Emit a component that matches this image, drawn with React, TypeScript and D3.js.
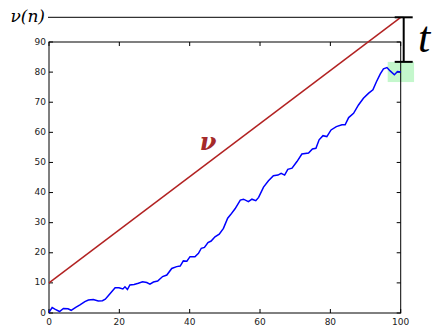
import * as d3 from "d3";

// blue walk (x, value)
const walkX = [0, 0.9, 1.8, 3.0, 4.1, 5.4, 6.3, 7.6, 8.8, 10.2, 11.2, 12.6, 14.0, 15.2, 16.0, 17.4, 18.8, 19.9, 21.0, 21.6, 22.3, 23.0, 24.2, 25.4, 26.6, 27.8, 28.7, 29.7, 30.9, 32.3, 33.5, 34.9, 36.3, 37.3, 38.2, 39.2, 40.1, 41.5, 42.5, 43.3, 44.2, 45.2, 46.1, 47.2, 48.4, 49.6, 50.8, 51.6, 52.9, 54.4, 55.3, 56.7, 57.7, 58.8, 59.6, 61.0, 62.4, 63.8, 65.1, 66.0, 67.0, 67.9, 69.1, 70.5, 71.9, 73.8, 74.9, 75.9, 76.8, 77.9, 79.0, 80.2, 81.7, 83.3, 84.2, 85.2, 86.6, 88.0, 89.4, 90.9, 92.1, 93.1, 94.2, 95.1, 96.1, 97.0, 98.2, 99.1, 100];
const walkY = [0.2, 1.8, 1.2, 0.5, 1.5, 1.4, 0.9, 1.9, 2.7, 3.8, 4.3, 4.5, 4.0, 4.1, 4.6, 6.5, 8.4, 8.4, 8.0, 8.7, 7.8, 9.3, 9.5, 9.9, 10.4, 10.1, 9.6, 10.3, 10.6, 12.1, 12.6, 14.8, 15.4, 15.6, 17.3, 17.2, 18.7, 18.7, 19.8, 21.5, 21.8, 23.4, 23.9, 25.3, 26.2, 28.1, 31.5, 32.6, 34.6, 37.5, 37.8, 37.0, 37.8, 37.3, 38.4, 41.8, 43.9, 45.6, 45.8, 46.4, 45.8, 47.7, 48.1, 50.3, 52.8, 53.1, 54.5, 54.7, 57.5, 58.9, 58.6, 60.8, 61.9, 62.5, 62.5, 64.9, 66.3, 69.1, 71.3, 73.0, 74.1, 76.8, 79.4, 81.1, 81.5, 80.4, 79.1, 80.2, 80.0];

// red line nu: from (0, 10) up to nu(n)
const nuStart = 10;
const nuEnd = 98.2;

// green box round the last point
const boxX = [96.3, 103.8];
const boxY = [76.7, 83.4];

const xTicks = [0, 20, 40, 60, 80, 100];
const yTicks = [0, 10, 20, 30, 40, 50, 60, 70, 80, 90];

export default function App() {
  const width = 432;
  const height = 327;

  const x = d3.scaleLinear().domain([0, 100]).range([49, 400.7]);
  const y = d3.scaleLinear().domain([0, 90]).range([313, 42]);

  const pts: [number, number][] = walkX.map((v, i) => [v, walkY[i]]);
  const line = d3
    .line<[number, number]>()
    .x((d) => x(d[0]))
    .y((d) => y(d[1]));

  const tick = 4;
  const font = "DejaVu Sans, sans-serif";
  const serif = "DejaVu Serif, serif";
  const thin = "Liberation Serif, serif";

  const bx = x(100) + 3;
  const yTop = y(nuEnd);
  const yBot = y(boxY[1]);

  return (
    <svg
      width={width}
      height={height}
      style={{ position: "absolute", left: 0, top: 0, background: "#fff" }}
    >
      {/* green box */}
      <rect
        x={x(boxX[0])}
        y={y(boxY[1])}
        width={x(boxX[1]) - x(boxX[0])}
        height={y(boxY[0]) - y(boxY[1])}
        fill="#c4f7cc"
      />

      {/* frame */}
      <rect
        x={x(0)}
        y={y(90)}
        width={x(100) - x(0)}
        height={y(0) - y(90)}
        fill="none"
        stroke="#000"
        strokeWidth={1}
      />

      {/* ticks */}
      {xTicks.map((t) => (
        <g key={"xt" + t}>
          <line x1={x(t)} x2={x(t)} y1={y(0)} y2={y(0) - tick} stroke="#000" />
          <line x1={x(t)} x2={x(t)} y1={y(90)} y2={y(90) + tick} stroke="#000" />
          <text
            x={x(t)}
            y={y(0) + 12}
            fontSize={9}
            fontFamily={font}
            textAnchor="middle"
            fill="#222"
          >
            {t}
          </text>
        </g>
      ))}
      {yTicks.map((t) => (
        <g key={"yt" + t}>
          <line x1={x(0)} x2={x(0) + tick} y1={y(t)} y2={y(t)} stroke="#000" />
          <line x1={x(100)} x2={x(100) - tick} y1={y(t)} y2={y(t)} stroke="#000" />
          <text
            x={x(0) - 3}
            y={y(t)}
            fontSize={9}
            fontFamily={font}
            textAnchor="end"
            dominantBaseline="middle"
            fill="#222"
          >
            {t}
          </text>
        </g>
      ))}

      {/* nu line */}
      <line
        x1={x(0)}
        y1={y(nuStart)}
        x2={x(100)}
        y2={y(nuEnd)}
        stroke="#b22222"
        strokeWidth={1.5}
      />
      <text
        x={208}
        y={150}
        fontSize={24}
        fontFamily={serif}
        fontStyle="italic"
        fontWeight="bold"
        fill="#a52a2a"
        textAnchor="middle"
      >
        ν
      </text>

      {/* walk */}
      <path d={line(pts) || ""} fill="none" stroke="#0000ff" strokeWidth={1.5} />

      {/* nu(n) level */}
      <line x1={x(0) - 1} x2={bx} y1={yTop} y2={yTop} stroke="#000" strokeWidth={1} />
      <text
        x={45}
        y={yTop}
        fontSize={17}
        fontFamily={serif}
        fontStyle="italic"
        fontWeight={300}
        textAnchor="end"
        dominantBaseline="middle"
      >
        ν(n)
      </text>

      {/* bracket t */}
      <line x1={bx} x2={bx} y1={yTop} y2={yBot} stroke="#000" strokeWidth={2} />
      <line x1={bx - 9} x2={bx + 9} y1={yTop} y2={yTop} stroke="#000" strokeWidth={2} />
      <line x1={bx - 9} x2={bx + 9} y1={yBot} y2={yBot} stroke="#000" strokeWidth={2} />
      <text
        x={424}
        y={52}
        fontSize={44}
        fontFamily={thin}
        fontStyle="italic"
        textAnchor="middle"
      >
        t
      </text>
    </svg>
  );
}
